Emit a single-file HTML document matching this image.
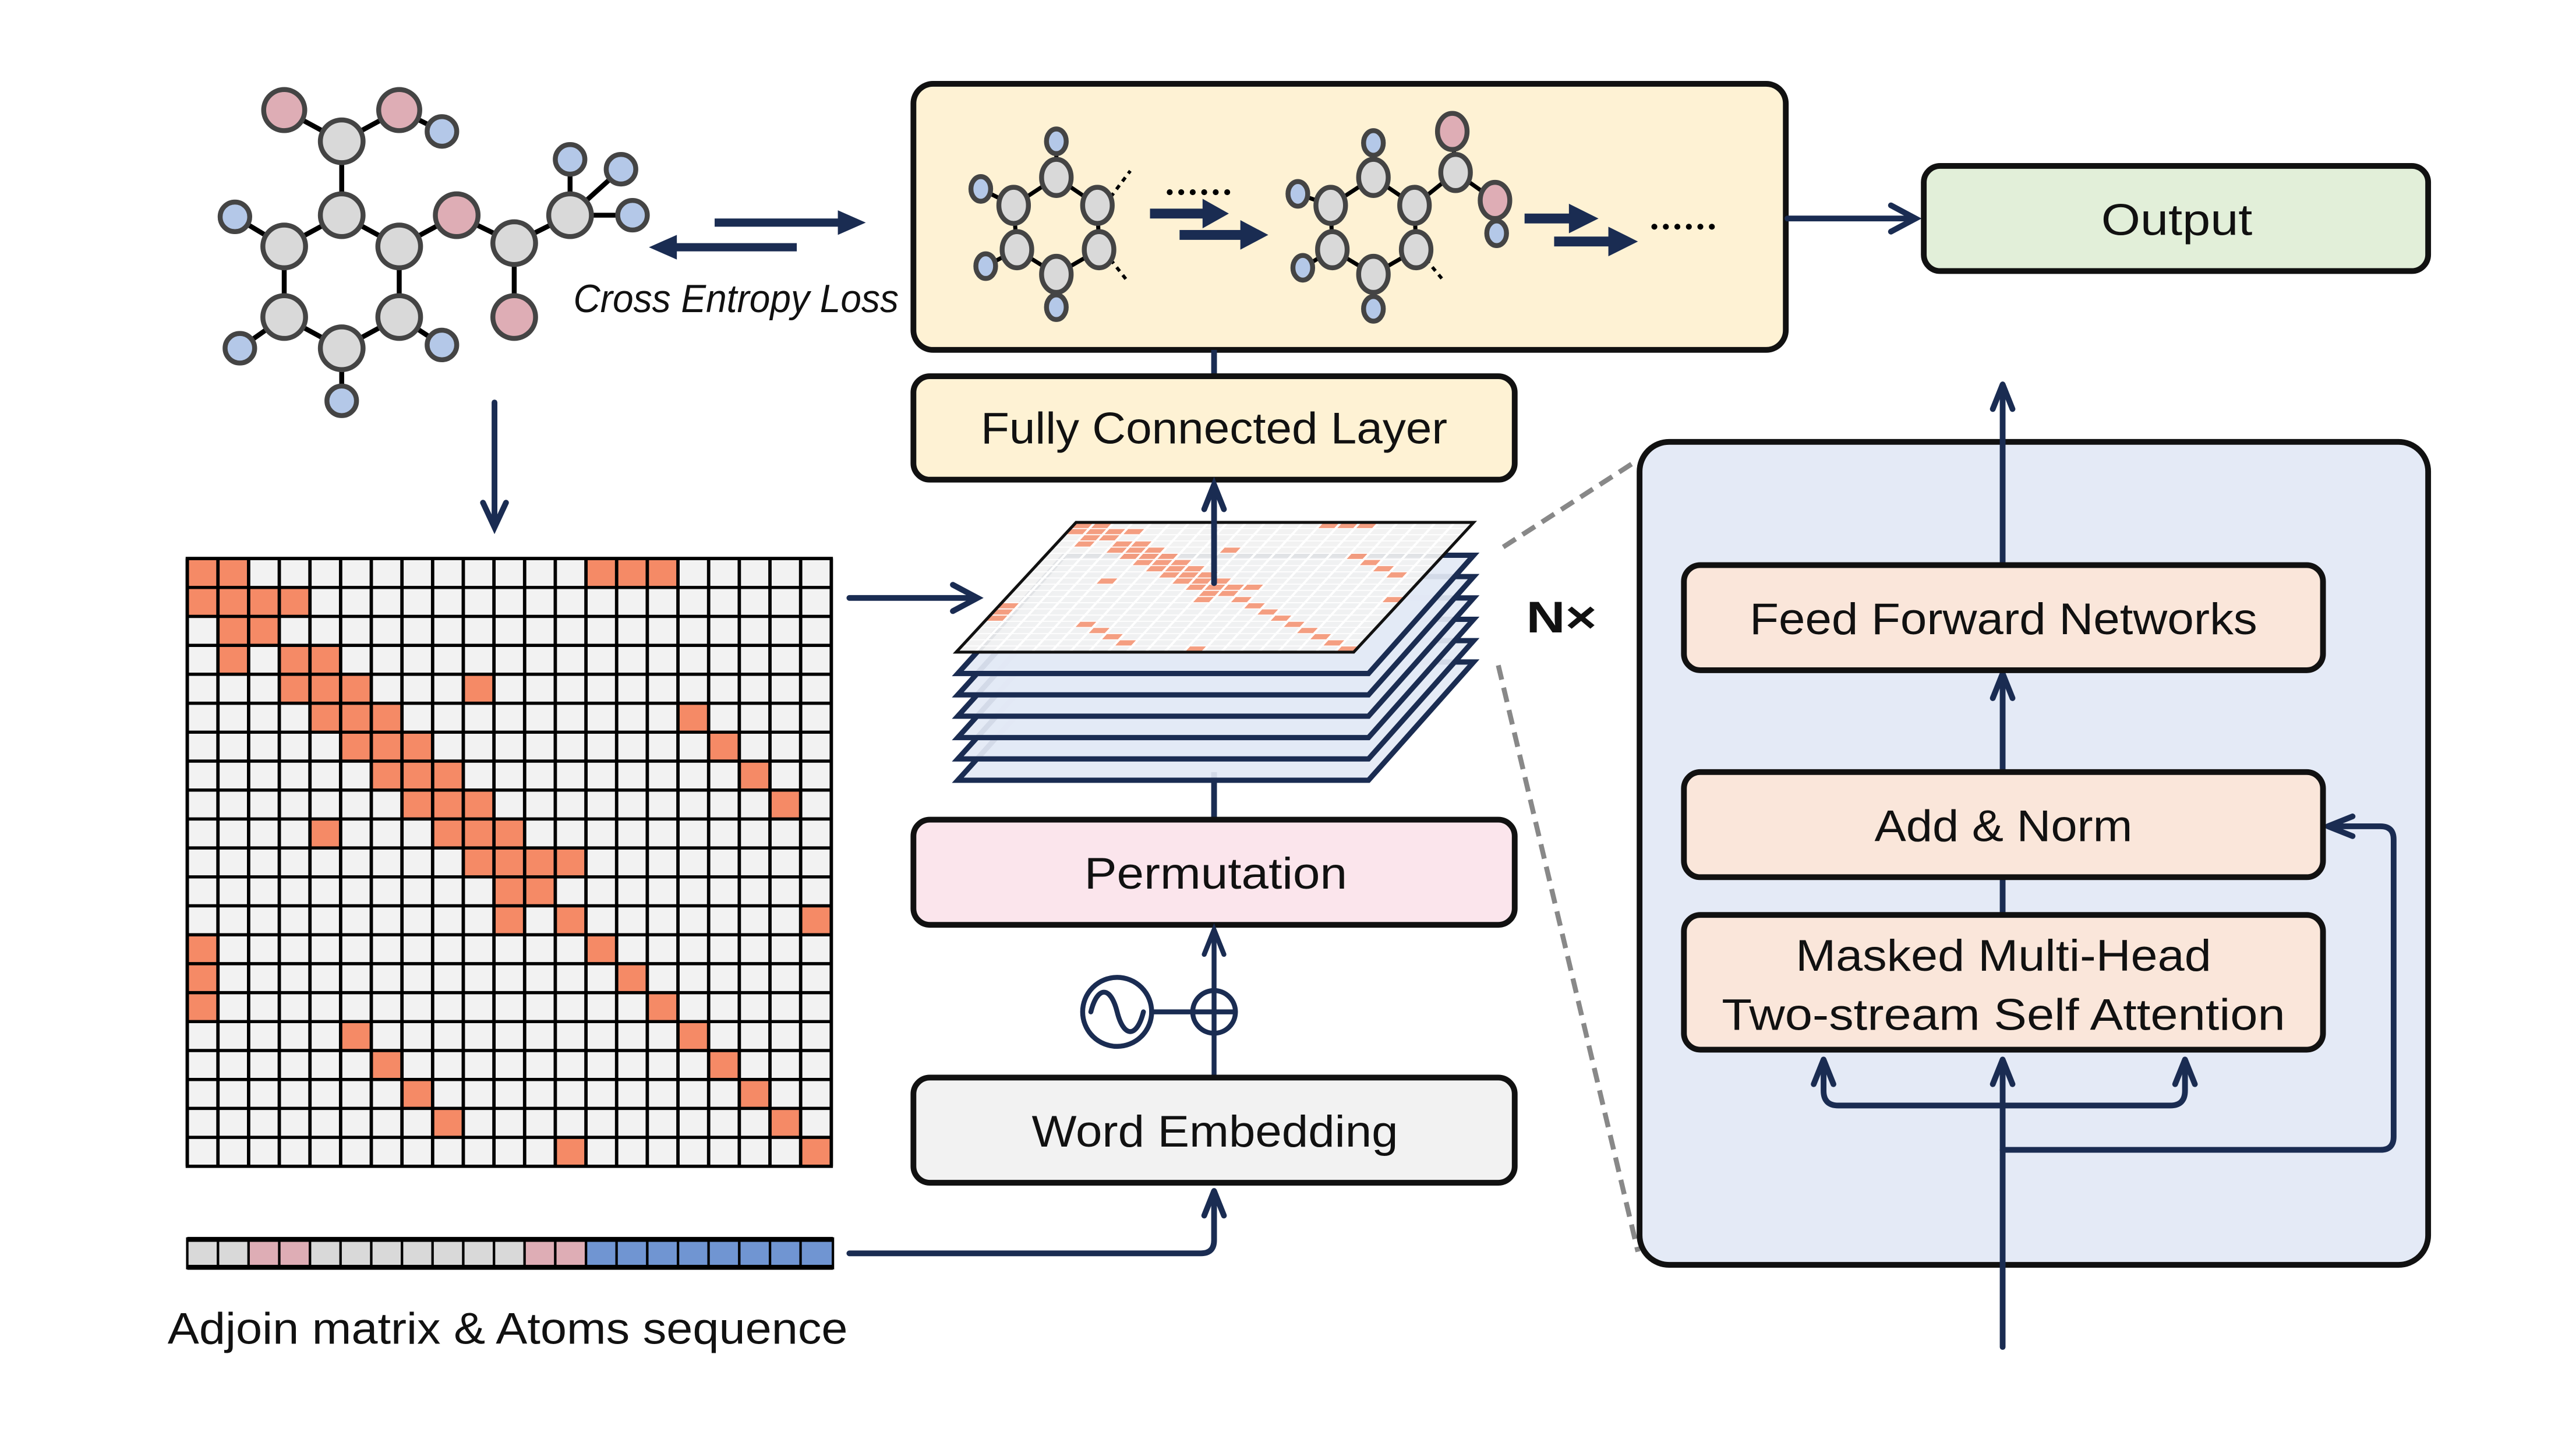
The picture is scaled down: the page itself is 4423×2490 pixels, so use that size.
<!DOCTYPE html>
<html><head><meta charset="utf-8"><style>
html,body{margin:0;padding:0;background:#fff;}
svg{display:block;}
text{font-family:"Liberation Sans",sans-serif;fill:#111;}
</style></head><body>
<svg width="4423" height="2490" viewBox="0 0 1568 882.7" xmlns="http://www.w3.org/2000/svg">
<defs>
<g id="cells" fill="#f58a66">
<rect x="0" y="0" width="1" height="1"/><rect x="1" y="0" width="1" height="1"/><rect x="13" y="0" width="1" height="1"/><rect x="14" y="0" width="1" height="1"/><rect x="15" y="0" width="1" height="1"/>
<rect x="0" y="1" width="1" height="1"/><rect x="1" y="1" width="1" height="1"/><rect x="2" y="1" width="1" height="1"/><rect x="3" y="1" width="1" height="1"/>
<rect x="1" y="2" width="1" height="1"/><rect x="2" y="2" width="1" height="1"/>
<rect x="1" y="3" width="1" height="1"/><rect x="3" y="3" width="1" height="1"/><rect x="4" y="3" width="1" height="1"/>
<rect x="3" y="4" width="1" height="1"/><rect x="4" y="4" width="1" height="1"/><rect x="5" y="4" width="1" height="1"/><rect x="9" y="4" width="1" height="1"/>
<rect x="4" y="5" width="1" height="1"/><rect x="5" y="5" width="1" height="1"/><rect x="6" y="5" width="1" height="1"/><rect x="16" y="5" width="1" height="1"/>
<rect x="5" y="6" width="1" height="1"/><rect x="6" y="6" width="1" height="1"/><rect x="7" y="6" width="1" height="1"/><rect x="17" y="6" width="1" height="1"/>
<rect x="6" y="7" width="1" height="1"/><rect x="7" y="7" width="1" height="1"/><rect x="8" y="7" width="1" height="1"/><rect x="18" y="7" width="1" height="1"/>
<rect x="7" y="8" width="1" height="1"/><rect x="8" y="8" width="1" height="1"/><rect x="9" y="8" width="1" height="1"/><rect x="19" y="8" width="1" height="1"/>
<rect x="4" y="9" width="1" height="1"/><rect x="8" y="9" width="1" height="1"/><rect x="9" y="9" width="1" height="1"/><rect x="10" y="9" width="1" height="1"/>
<rect x="9" y="10" width="1" height="1"/><rect x="10" y="10" width="1" height="1"/><rect x="11" y="10" width="1" height="1"/><rect x="12" y="10" width="1" height="1"/>
<rect x="10" y="11" width="1" height="1"/><rect x="11" y="11" width="1" height="1"/>
<rect x="10" y="12" width="1" height="1"/><rect x="12" y="12" width="1" height="1"/><rect x="20" y="12" width="1" height="1"/>
<rect x="0" y="13" width="1" height="1"/><rect x="13" y="13" width="1" height="1"/>
<rect x="0" y="14" width="1" height="1"/><rect x="14" y="14" width="1" height="1"/>
<rect x="0" y="15" width="1" height="1"/><rect x="15" y="15" width="1" height="1"/>
<rect x="5" y="16" width="1" height="1"/><rect x="16" y="16" width="1" height="1"/>
<rect x="6" y="17" width="1" height="1"/><rect x="17" y="17" width="1" height="1"/>
<rect x="7" y="18" width="1" height="1"/><rect x="18" y="18" width="1" height="1"/>
<rect x="8" y="19" width="1" height="1"/><rect x="19" y="19" width="1" height="1"/>
<rect x="12" y="20" width="1" height="1"/><rect x="20" y="20" width="1" height="1"/>
</g>
<path id="grid" d="M0 0H21M0 1H21M0 2H21M0 3H21M0 4H21M0 5H21M0 6H21M0 7H21M0 8H21M0 9H21M0 10H21M0 11H21M0 12H21M0 13H21M0 14H21M0 15H21M0 16H21M0 17H21M0 18H21M0 19H21M0 20H21M0 21H21M0 0V21M1 0V21M2 0V21M3 0V21M4 0V21M5 0V21M6 0V21M7 0V21M8 0V21M9 0V21M10 0V21M11 0V21M12 0V21M13 0V21M14 0V21M15 0V21M16 0V21M17 0V21M18 0V21M19 0V21M20 0V21M21 0V21"/>
</defs>

<!-- left molecule -->
<g stroke="#000" stroke-width="3">
<line x1="173" y1="67" x2="208" y2="86"/><line x1="208" y1="86" x2="243" y2="67"/><line x1="243" y1="67" x2="269" y2="80"/>
<line x1="208" y1="86" x2="208" y2="131"/><line x1="208" y1="131" x2="173" y2="150"/><line x1="208" y1="131" x2="243" y2="150"/>
<line x1="173" y1="150" x2="143" y2="132"/><line x1="173" y1="150" x2="173" y2="193"/><line x1="243" y1="150" x2="243" y2="193"/>
<line x1="243" y1="150" x2="278" y2="131"/><line x1="278" y1="131" x2="313" y2="148"/><line x1="313" y1="148" x2="347" y2="131"/>
<line x1="313" y1="148" x2="313" y2="193"/><line x1="347" y1="131" x2="347" y2="97"/><line x1="347" y1="131" x2="378" y2="103"/>
<line x1="347" y1="131" x2="385" y2="131"/><line x1="173" y1="193" x2="146" y2="212"/><line x1="173" y1="193" x2="208" y2="212"/>
<line x1="243" y1="193" x2="208" y2="212"/><line x1="243" y1="193" x2="269" y2="210"/><line x1="208" y1="212" x2="208" y2="244"/>
</g>
<g stroke="#444" stroke-width="3">
<g fill="#d9d9d9">
<circle cx="208" cy="86" r="13"/><circle cx="208" cy="131" r="13"/><circle cx="173" cy="150" r="13"/><circle cx="243" cy="150" r="13"/>
<circle cx="173" cy="193" r="13"/><circle cx="243" cy="193" r="13"/><circle cx="208" cy="212" r="13"/><circle cx="313" cy="148" r="13"/><circle cx="347" cy="131" r="13"/>
</g>
<g fill="#deadb5">
<circle cx="173" cy="67" r="12.5"/><circle cx="243" cy="67" r="12.5"/><circle cx="278" cy="131" r="13"/><circle cx="313" cy="193" r="13"/>
</g>
<g fill="#b4c8e8">
<circle cx="269" cy="80" r="9"/><circle cx="143" cy="132" r="9"/><circle cx="146" cy="212" r="9"/><circle cx="269" cy="210" r="9"/>
<circle cx="208" cy="244" r="9"/><circle cx="347" cy="97" r="9"/><circle cx="378" cy="103" r="9"/><circle cx="385" cy="131" r="9"/>
</g>
</g>

<!-- cross entropy arrows -->
<g fill="#1a2c52">
<rect x="435" y="133" width="78" height="5"/><polygon points="510,128 527,135.5 510,143"/>
<rect x="410" y="148" width="75" height="5"/><polygon points="412,143 395,150.5 412,158"/>
</g>
<text x="349" y="190" font-size="24" font-style="italic" textLength="198" lengthAdjust="spacingAndGlyphs">Cross Entropy Loss</text>

<!-- down arrow -->
<g stroke="#1a2c52" stroke-width="3.5" fill="none" stroke-linecap="round">
<line x1="301" y1="245" x2="301" y2="320"/><polyline points="294,306 301,321 308,306"/>
</g>

<!-- matrix -->
<g transform="translate(114,340) scale(18.667,17.619)">
<rect x="0" y="0" width="21" height="21" fill="#f2f2f2"/>
<use href="#cells"/>
<use href="#grid" stroke="#000" stroke-width="0.11" fill="none"/>
</g>
<path d="M114 340H506V710H114Z" fill="none" stroke="#000" stroke-width="2"/>

<!-- matrix to stack arrow -->
<g stroke="#1a2c52" stroke-width="3.5" fill="none" stroke-linecap="round">
<line x1="517" y1="364" x2="594" y2="364"/><polyline points="580,356 595,364 580,372"/>
</g>

<!-- sequence -->
<g stroke="#000" stroke-width="1.5">
<rect x="114" y="754" width="18.7" height="18" fill="#d9d9d9"/><rect x="132.7" y="754" width="18.7" height="18" fill="#d9d9d9"/>
<rect x="151.3" y="754" width="18.7" height="18" fill="#deadb5"/><rect x="170" y="754" width="18.7" height="18" fill="#deadb5"/>
<rect x="188.7" y="754" width="18.7" height="18" fill="#d9d9d9"/><rect x="207.3" y="754" width="18.7" height="18" fill="#d9d9d9"/>
<rect x="226" y="754" width="18.7" height="18" fill="#d9d9d9"/><rect x="244.7" y="754" width="18.7" height="18" fill="#d9d9d9"/>
<rect x="263.3" y="754" width="18.7" height="18" fill="#d9d9d9"/><rect x="282" y="754" width="18.7" height="18" fill="#d9d9d9"/>
<rect x="300.7" y="754" width="18.7" height="18" fill="#d9d9d9"/><rect x="319.3" y="754" width="18.7" height="18" fill="#deadb5"/>
<rect x="338" y="754" width="18.7" height="18" fill="#deadb5"/>
<rect x="356.7" y="754" width="18.7" height="18" fill="#7095d2"/><rect x="375.3" y="754" width="18.7" height="18" fill="#7095d2"/>
<rect x="394" y="754" width="18.7" height="18" fill="#7095d2"/><rect x="412.7" y="754" width="18.7" height="18" fill="#7095d2"/>
<rect x="431.3" y="754" width="18.7" height="18" fill="#7095d2"/><rect x="450" y="754" width="18.7" height="18" fill="#7095d2"/>
<rect x="468.7" y="754" width="18.7" height="18" fill="#7095d2"/><rect x="487.3" y="754" width="19.7" height="18" fill="#7095d2"/>
</g>
<rect x="114" y="753" width="393" height="3" fill="#000"/><rect x="114" y="770" width="393" height="3" fill="#000"/>
<text x="102" y="818" font-size="27" textLength="414" lengthAdjust="spacingAndGlyphs">Adjoin matrix &amp; Atoms sequence</text>

<!-- sequence to word embedding -->
<g stroke="#1a2c52" stroke-width="3.5" fill="none" stroke-linecap="round" stroke-linejoin="round">
<path d="M517 763H731Q739 763 739 755V726"/><polyline points="733,740 739,725 745,740"/>
</g>

<!-- top box -->
<rect x="556" y="51" width="531" height="162" rx="12" fill="#fef2d4" stroke="#111" stroke-width="3.5"/>
<g stroke="#000" stroke-width="2.5">
<line x1="643" y1="86" x2="643" y2="108"/><line x1="643" y1="108" x2="617" y2="125"/><line x1="643" y1="108" x2="668" y2="125"/>
<line x1="617" y1="125" x2="597" y2="115"/><line x1="617" y1="125" x2="619" y2="152"/><line x1="668" y1="125" x2="669" y2="152"/>
<line x1="619" y1="152" x2="600" y2="162"/><line x1="619" y1="152" x2="643" y2="167"/><line x1="669" y1="152" x2="643" y2="167"/><line x1="643" y1="167" x2="643" y2="187"/>
<line x1="836" y1="87" x2="836" y2="108"/><line x1="836" y1="108" x2="810" y2="125"/><line x1="836" y1="108" x2="861" y2="125"/>
<line x1="810" y1="125" x2="790" y2="118"/><line x1="810" y1="125" x2="811" y2="152"/><line x1="861" y1="125" x2="862" y2="152"/>
<line x1="811" y1="152" x2="793" y2="163"/><line x1="811" y1="152" x2="836" y2="167"/><line x1="862" y1="152" x2="836" y2="167"/><line x1="836" y1="167" x2="836" y2="188"/>
<line x1="861" y1="125" x2="886" y2="105"/><line x1="886" y1="105" x2="884" y2="80"/><line x1="886" y1="105" x2="910" y2="122"/><line x1="910" y1="122" x2="911" y2="142"/>
</g>
<g stroke="#000" stroke-width="2" stroke-dasharray="3 3">
<line x1="676" y1="120" x2="688" y2="104"/><line x1="676" y1="158" x2="687" y2="172"/><line x1="868" y1="158" x2="878" y2="170"/>
</g>
<g stroke="#444" stroke-width="3">
<g fill="#d9d9d9">
<ellipse cx="643" cy="108" rx="9" ry="11"/><ellipse cx="617" cy="125" rx="9" ry="11"/><ellipse cx="668" cy="125" rx="9" ry="11"/>
<ellipse cx="619" cy="152" rx="9" ry="11"/><ellipse cx="669" cy="152" rx="9" ry="11"/><ellipse cx="643" cy="167" rx="9" ry="11"/>
<ellipse cx="836" cy="108" rx="9" ry="11"/><ellipse cx="810" cy="125" rx="9" ry="11"/><ellipse cx="861" cy="125" rx="9" ry="11"/>
<ellipse cx="811" cy="152" rx="9" ry="11"/><ellipse cx="862" cy="152" rx="9" ry="11"/><ellipse cx="836" cy="167" rx="9" ry="11"/>
<ellipse cx="886" cy="105" rx="9" ry="11"/>
</g>
<g fill="#deadb5"><ellipse cx="884" cy="80" rx="9" ry="11"/><ellipse cx="910" cy="122" rx="9" ry="11"/></g>
<g fill="#b4c8e8">
<ellipse cx="643" cy="86" rx="6" ry="7.5"/><ellipse cx="597" cy="115" rx="6" ry="7.5"/><ellipse cx="600" cy="162" rx="6" ry="7.5"/><ellipse cx="643" cy="187" rx="6" ry="7.5"/>
<ellipse cx="836" cy="87" rx="6" ry="7.5"/><ellipse cx="790" cy="118" rx="6" ry="7.5"/><ellipse cx="793" cy="163" rx="6" ry="7.5"/><ellipse cx="836" cy="188" rx="6" ry="7.5"/>
<ellipse cx="911" cy="142" rx="6" ry="7.5"/>
</g>
</g>
<g fill="#000">
<circle cx="712" cy="117" r="1.8"/><circle cx="719" cy="117" r="1.8"/><circle cx="726" cy="117" r="1.8"/><circle cx="733" cy="117" r="1.8"/><circle cx="740" cy="117" r="1.8"/><circle cx="747" cy="117" r="1.8"/>
<circle cx="1007" cy="138" r="1.8"/><circle cx="1014" cy="138" r="1.8"/><circle cx="1021" cy="138" r="1.8"/><circle cx="1028" cy="138" r="1.8"/><circle cx="1035" cy="138" r="1.8"/><circle cx="1042" cy="138" r="1.8"/>
</g>
<g fill="#1a2c52">
<rect x="700" y="127" width="33" height="6"/><polygon points="732,121 748,130 732,139"/>
<rect x="718" y="140" width="38" height="6"/><polygon points="755,134 772,143 755,152"/>
<rect x="928" y="130" width="28" height="6"/><polygon points="955,124 973,133 955,142"/>
<rect x="946" y="144" width="34" height="6"/><polygon points="979,138 997,147 979,156"/>
</g>

<!-- top box to output -->
<g stroke="#1a2c52" stroke-width="3.5" fill="none" stroke-linecap="round">
<line x1="1088" y1="133" x2="1165" y2="133"/><polyline points="1151,125 1166,133 1151,141"/>
</g>
<rect x="1171" y="101" width="307" height="64" rx="10" fill="#e2efd9" stroke="#111" stroke-width="3.5"/>
<text x="1279" y="143" font-size="27" textLength="92" lengthAdjust="spacingAndGlyphs">Output</text>

<!-- FC layer -->
<line x1="739" y1="213" x2="739" y2="229" stroke="#1a2c52" stroke-width="3.5"/>
<rect x="556" y="229" width="366" height="63" rx="10" fill="#fef2d4" stroke="#111" stroke-width="3.5"/>
<text x="597" y="270" font-size="27" textLength="284" lengthAdjust="spacingAndGlyphs">Fully Connected Layer</text>

<!-- stack -->
<line x1="739" y1="470" x2="739" y2="499" stroke="#1a2c52" stroke-width="3.5"/>
<g fill="#e3e9f5" fill-opacity="0.92" stroke="#1a2c52" stroke-width="3.2" stroke-linejoin="miter">
<polygon points="648,403 897,403 833,475 583,475"/>
<polygon points="648,390 897,390 833,462 583,462"/>
<polygon points="648,377 897,377 833,449 583,449"/>
<polygon points="648,364 897,364 833,436 583,436"/>
<polygon points="648,351 897,351 833,423 583,423"/>
<polygon points="648,338 897,338 833,410 583,410"/>
</g>
<g transform="matrix(11.524,0,-3.476,3.762,655,318)">
<rect x="0" y="0" width="21" height="21" fill="#f1f1f1" fill-opacity="0.93"/>
<use href="#cells" opacity="0.8"/>
<use href="#grid" stroke="#fff" stroke-width="0.16" fill="none"/>
</g>
<polygon points="655,318 897,318 824,397 582,397" fill="none" stroke="#111" stroke-width="1.8"/>
<g stroke="#1a2c52" stroke-width="3.5" fill="none" stroke-linecap="round">
<line x1="739" y1="355" x2="739" y2="296"/><polyline points="733,310 739,295 745,310"/>
</g>
<text x="929" y="385" font-size="27" font-weight="bold" textLength="43" lengthAdjust="spacingAndGlyphs">N×</text>

<!-- dashed lines -->
<g stroke="#888" stroke-width="3" stroke-dasharray="9 5" fill="none">
<line x1="915" y1="333" x2="997" y2="280"/><line x1="912" y1="405" x2="997" y2="762"/>
</g>

<!-- Permutation -->
<rect x="556" y="499" width="366" height="64" rx="10" fill="#fbe5ec" stroke="#111" stroke-width="3.5"/>
<text x="660" y="541" font-size="27" textLength="160" lengthAdjust="spacingAndGlyphs">Permutation</text>

<!-- positional -->
<g stroke="#1a2c52" stroke-width="3" fill="none" stroke-linecap="round">
<line x1="739" y1="655" x2="739" y2="567"/><polyline points="733,581 739,566 745,581"/>
<circle cx="680" cy="616" r="21"/>
<path d="M664 616C668 600 676 600 680 616S692 632 696 616"/>
<line x1="701" y1="616" x2="726" y2="616"/>
<circle cx="739" cy="616" r="13"/>
<line x1="726" y1="616" x2="752" y2="616"/>
</g>

<!-- Word Embedding -->
<rect x="556" y="656" width="366" height="64" rx="10" fill="#f2f2f2" stroke="#111" stroke-width="3.5"/>
<text x="628" y="698" font-size="27" textLength="223" lengthAdjust="spacingAndGlyphs">Word Embedding</text>

<!-- right panel -->
<rect x="998" y="269" width="480" height="501" rx="18" fill="#e4eaf6" stroke="#111" stroke-width="3.5"/>
<g stroke="#1a2c52" stroke-width="3.5" fill="none" stroke-linecap="round" stroke-linejoin="round">
<line x1="1219" y1="820" x2="1219" y2="646"/><polyline points="1213,660 1219,645 1225,660"/>
<line x1="1219" y1="534" x2="1219" y2="557"/>
<line x1="1219" y1="470" x2="1219" y2="411"/><polyline points="1213,425 1219,410 1225,425"/>
<line x1="1219" y1="344" x2="1219" y2="235"/><polyline points="1213,249 1219,234 1225,249"/>
<path d="M1110 646V664Q1110 673 1119 673H1321Q1330 673 1330 664V646"/>
<polyline points="1104,660 1110,645 1116,660"/><polyline points="1324,660 1330,645 1336,660"/>
<path d="M1219 700H1449Q1457 700 1457 692V511Q1457 503 1449 503H1418"/>
<polyline points="1432,497 1417,503 1432,509"/>
</g>
<rect x="1025" y="344" width="389" height="64" rx="10" fill="#fae6da" stroke="#111" stroke-width="3.5"/>
<text x="1065" y="386" font-size="27" textLength="309" lengthAdjust="spacingAndGlyphs">Feed Forward Networks</text>
<rect x="1025" y="470" width="389" height="64" rx="10" fill="#fae6da" stroke="#111" stroke-width="3.5"/>
<text x="1141" y="512" font-size="27" textLength="157" lengthAdjust="spacingAndGlyphs">Add &amp; Norm</text>
<rect x="1025" y="557" width="389" height="82" rx="10" fill="#fae6da" stroke="#111" stroke-width="3.5"/>
<text x="1093" y="591" font-size="27" textLength="253" lengthAdjust="spacingAndGlyphs">Masked Multi-Head</text>
<text x="1048" y="627" font-size="27" textLength="343" lengthAdjust="spacingAndGlyphs">Two-stream  Self Attention</text>
</svg>
</body></html>
